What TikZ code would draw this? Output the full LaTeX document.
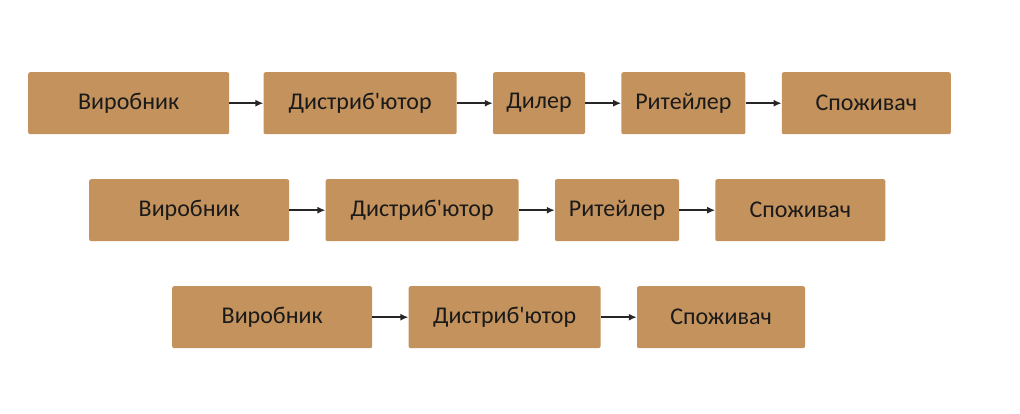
\documentclass[tikz,border=0pt]{standalone}
\usepackage{fontspec}
\setmainfont{Carlito}[Ligatures=TeXOff]
\usepackage{xcolor}
\usetikzlibrary{positioning}
\usetikzlibrary{arrows.meta}
\definecolor{boxbrown}{HTML}{C4925C}
\definecolor{txtdark}{HTML}{1A1A1A}
\tikzset{
  stage/.style={fill=boxbrown, rounded corners=2pt, minimum height=62pt,
    inner sep=0pt, text=txtdark, font=\fontsize{24}{28}\selectfont},
  flow/.style={-{Latex[length=8pt,width=7pt]}, line width=2pt, draw=black!85},
}

\begin{document}
\begin{tikzpicture}[x=1pt, y=1pt, node distance=36pt]
\useasboundingbox (0,0) rectangle (1020,-413);

% first chain
\node[stage, minimum width=201pt, anchor=north west] (v1) at (28,-72) {Виробник};
\node[stage, minimum width=193pt, right=34pt of v1] (d1) {Дистриб'ютор};
\node[stage, minimum width=92pt, right=of d1] (dl1) {Дилер};
\node[stage, minimum width=124pt, right=of dl1] (r1) {Ритейлер};
\node[stage, minimum width=169pt, right=of r1] (s1) {Споживач};
\draw[flow] (v1) -- (d1);
\draw[flow] (d1) -- (dl1);
\draw[flow] (dl1) -- (r1);
\draw[flow] (r1) -- (s1);

% second chain
\node[stage, minimum width=200pt, anchor=north west] (v2) at (89,-179) {Виробник};
\node[stage, minimum width=193pt, right=of v2] (d2) {Дистриб'ютор};
\node[stage, minimum width=124pt, right=of d2] (r2) {Ритейлер};
\node[stage, minimum width=170pt, right=of r2] (s2) {Споживач};
\draw[flow] (v2) -- (d2);
\draw[flow] (d2) -- (r2);
\draw[flow] (r2) -- (s2);

% third chain
\node[stage, minimum width=200pt, anchor=north west] (v3) at (172,-286) {Виробник};
\node[stage, minimum width=192pt, right=of v3] (d3) {Дистриб'ютор};
\node[stage, minimum width=168pt, right=of d3] (s3) {Споживач};
\draw[flow] (v3) -- (d3);
\draw[flow] (d3) -- (s3);
\end{tikzpicture}
\end{document}
